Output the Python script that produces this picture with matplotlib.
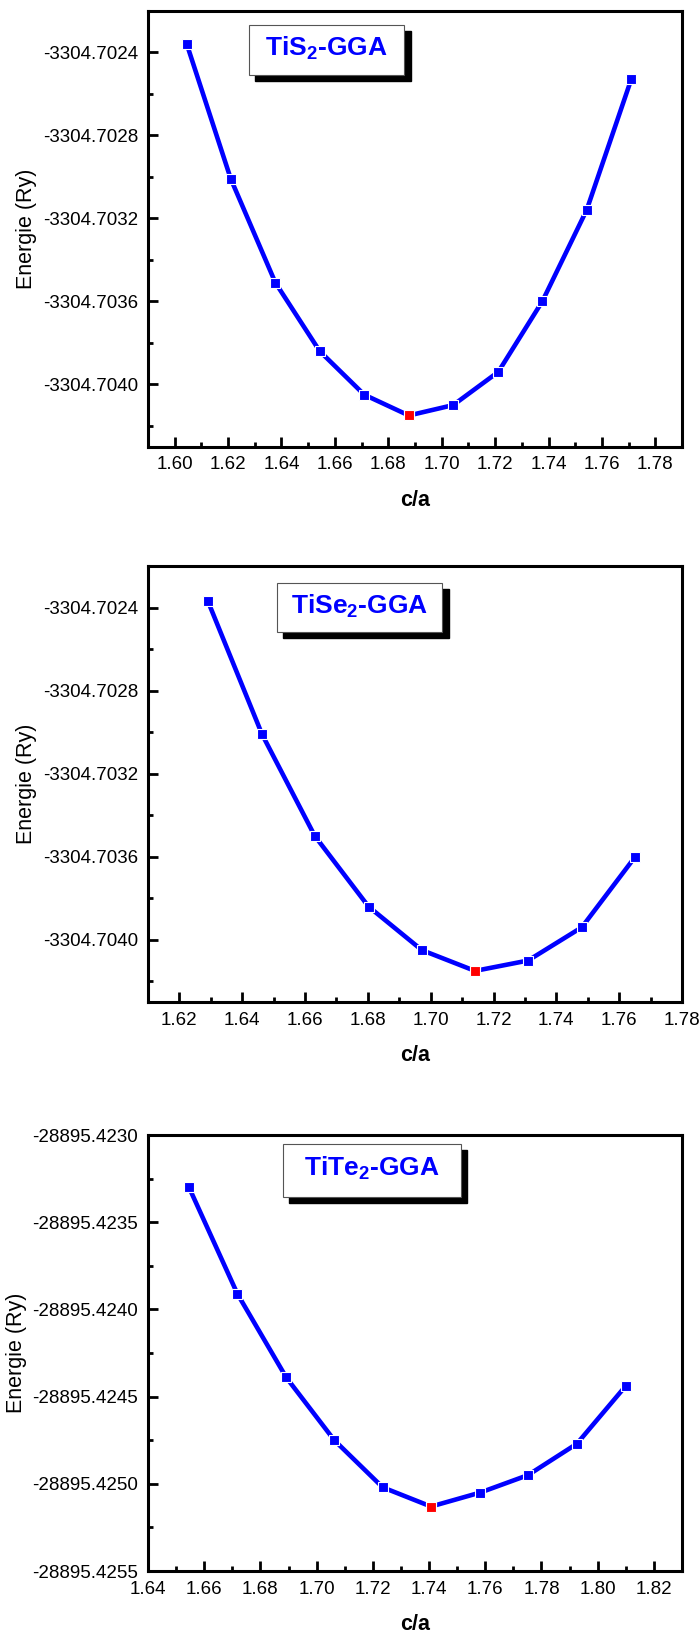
import matplotlib
matplotlib.use("Agg")
import matplotlib.pyplot as plt
from matplotlib.patches import Rectangle
from matplotlib.ticker import MultipleLocator, FormatStrFormatter

plt.rcParams['font.family'] = ['Liberation Sans', 'DejaVu Sans']
plt.rcParams['mathtext.fontset'] = 'custom'
plt.rcParams['mathtext.rm'] = 'Liberation Sans'
plt.rcParams['mathtext.bf'] = 'Liberation Sans:bold'

# TiS2
ca_tis2 = [1.6045, 1.6210, 1.6377, 1.6543, 1.6710, 1.6877, 1.7043, 1.7212, 1.7377, 1.7543, 1.7710]
e_tis2 = [-3304.70236, -3304.70301, -3304.70351, -3304.70384, -3304.70405, -3304.70415,
          -3304.70410, -3304.70394, -3304.70360, -3304.70316, -3304.70253]

# TiSe2
ca_tise2 = [1.6291, 1.6463, 1.6631, 1.6802, 1.6972, 1.7141, 1.7310, 1.7481, 1.7651]
e_tise2 = [-3304.70237, -3304.70301, -3304.70350, -3304.70384, -3304.70405, -3304.70415,
           -3304.70410, -3304.70394, -3304.70360]

# TiTe2
ca_tite2 = [1.6546, 1.6718, 1.6892, 1.7063, 1.7235, 1.7407, 1.7582, 1.7752, 1.7926, 1.8099]
e_tite2 = [-28895.42330, -28895.42391, -28895.42439, -28895.42475, -28895.42502, -28895.42513,
           -28895.42505, -28895.42495, -28895.42477, -28895.42444]

panels = [
    dict(x=ca_tis2, y=e_tis2, label=r'$\mathbf{TiS_2}$-GGA', xlim=(1.59, 1.79), ylim=(-3304.7043, -3304.7022),
         ymaj=0.0004, box=(0.189, 0.853, 0.291, 0.115), bottom=0.7270),
    dict(x=ca_tise2, y=e_tise2, label=r'$\mathbf{TiSe_2}$-GGA', xlim=(1.61, 1.78), ylim=(-3304.7043, -3304.7022),
         ymaj=0.0004, box=(0.241, 0.848, 0.310, 0.113), bottom=0.3875),
    dict(x=ca_tite2, y=e_tite2, label=r'$\mathbf{TiTe_2}$-GGA', xlim=(1.64, 1.83), ylim=(-28895.4255, -28895.4230),
         ymaj=0.0005, box=(0.253, 0.858, 0.333, 0.122), bottom=0.0397),
]

fig = plt.figure(figsize=(6.99, 16.36), dpi=100)

for p in panels:
    ax = fig.add_axes([0.2117, p['bottom'], 0.764, 0.2665])
    ax.plot(p['x'], p['y'], color='#0000ff', lw=3.3, marker='s', ms=7.5,
            mfc='#0000ff', mec='white', mew=0.8, zorder=3)
    imin = p['y'].index(min(p['y']))
    ax.plot([p['x'][imin]], [p['y'][imin]], ls='none', marker='s', ms=7.5,
            mfc='#ff0000', mec='white', mew=0.8, zorder=4)

    ax.set_xlim(*p['xlim'])
    ax.set_ylim(*p['ylim'])
    ax.xaxis.set_major_locator(MultipleLocator(0.02))
    ax.xaxis.set_minor_locator(MultipleLocator(0.01))
    ax.yaxis.set_major_locator(MultipleLocator(p['ymaj']))
    ax.yaxis.set_minor_locator(MultipleLocator(p['ymaj'] / 2))
    ax.xaxis.set_major_formatter(FormatStrFormatter('%.2f'))
    ax.yaxis.set_major_formatter(FormatStrFormatter('%.4f'))

    ax.tick_params(which='both', direction='in', top=False, right=False, width=2)
    ax.tick_params(which='major', length=7, labelsize=13.5, pad=7)
    ax.tick_params(which='minor', length=3.5)
    for s in ax.spines.values():
        s.set_linewidth(2.2)

    ax.set_xlabel('c/a', fontsize=15.5, fontweight='bold', labelpad=12)
    ax.set_ylabel('Energie (Ry)', fontsize=15.5)

    bx, by, bw, bh = p['box']
    # shadow then white box
    ax.add_patch(Rectangle((bx + 0.012, by - 0.014), bw, bh, transform=ax.transAxes,
                           facecolor='black', edgecolor='black', zorder=5))
    ax.add_patch(Rectangle((bx, by), bw, bh, transform=ax.transAxes,
                           facecolor='white', edgecolor='#555555', lw=0.8, zorder=6))
    ax.text(bx + bw / 2, by + bh / 2 + 0.004, p['label'], transform=ax.transAxes, ha='center', va='center',
            fontsize=19, fontweight='bold', color='#0000ff', zorder=7)

fig.savefig('out.png', dpi=100)
